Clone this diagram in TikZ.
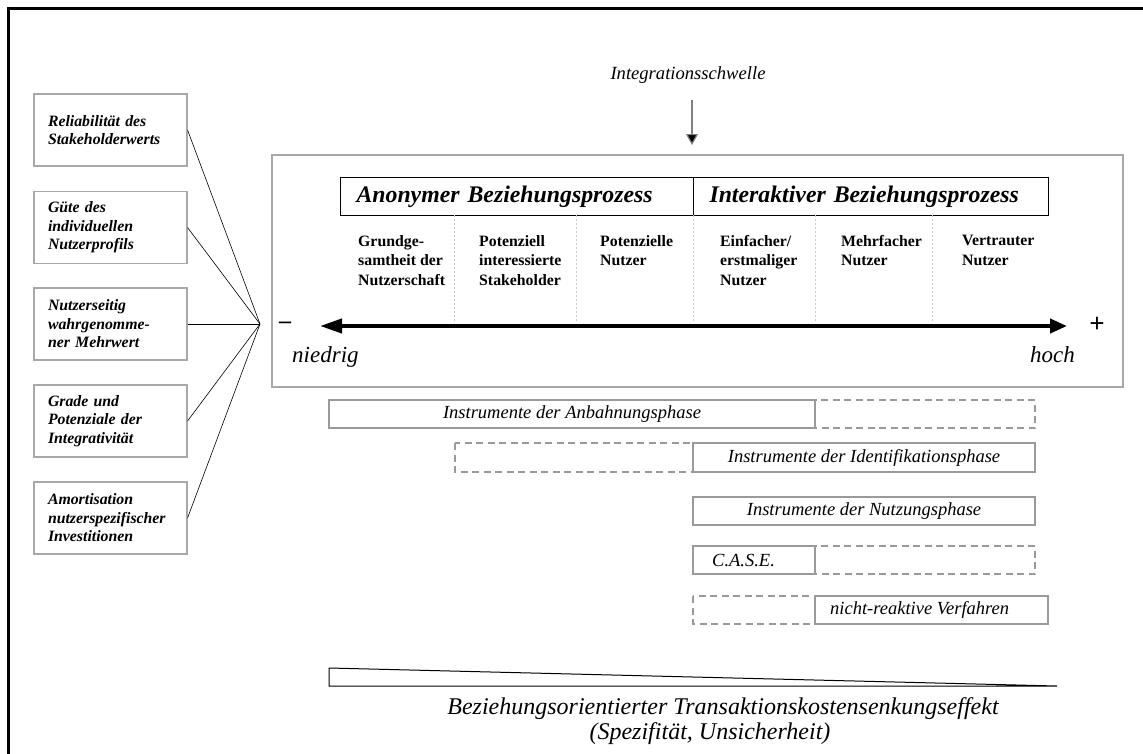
\documentclass[tikz,border=0pt]{standalone}
\usepackage{fontspec}
\setmainfont{Liberation Serif}
\usetikzlibrary{arrows.meta}

\definecolor{framegray}{HTML}{A8A8A8}
\definecolor{boxgray}{HTML}{9A9A9A}
\definecolor{sepgray}{HTML}{C8C8C8}

\tikzset{
  factorbox/.style={draw=framegray, line width=1.1pt, minimum width=153pt, minimum height=72pt,
    text width=125pt, inner xsep=14pt, align=left,
    font=\fontsize{15.8}{18.5}\selectfont\bfseries\itshape},
  phasebox/.style={draw=black, line width=1pt, minimum height=38pt, inner xsep=16pt, align=left,
    font=\fontsize{23.8}{26}\selectfont\bfseries\itshape},
  stagetext/.style={anchor=north west, inner sep=0pt, align=left,
    font=\fontsize{15.8}{19.5}\selectfont\bfseries},
  separator/.style={draw=sepgray, line width=0.7pt, dash pattern=on 2pt off 2pt},
  instrbox/.style={draw=boxgray, line width=1.6pt, fill=white},
  instrdash/.style={draw=boxgray, line width=1.6pt, dash pattern=on 7pt off 4.5pt},
  instrtext/.style={inner sep=0pt, font=\fontsize{18.5}{22}\selectfont\itshape},
  effecttext/.style={anchor=base, inner sep=0pt, font=\fontsize{24}{25}\selectfont\itshape},
  link/.style={draw=black, line width=0.6pt},
}

\begin{document}
\begin{tikzpicture}[x=1pt, y=-1pt]
\useasboundingbox (0,0) rectangle (1143,753);

% outer frame, open to the right and bottom
\draw[line width=2.5pt, line cap=rect] (1143,8.5) -- (8.5,8.5) -- (8.5,753);

% threshold label and arrow
\node[anchor=base, font=\fontsize{18.6}{22}\selectfont\itshape] (threshold) at (688,79) {Integrationsschwelle};
\coordinate (thrtop) at (692,100);
\coordinate (thrtip) at (692,145);
\draw[draw=gray, line width=1.2pt, -{Triangle[length=11pt, width=12pt, fill=black]}] (thrtop) -- (thrtip);

% main panel
\draw[draw=framegray, line width=1.3pt] (272,155) rectangle (1123,387);

% relationship process headers
\node[phasebox, anchor=north west, minimum width=353pt, text width=321pt] (anon) at (340,177) {Anonymer Beziehungsprozess};
\node[phasebox, anchor=north west, minimum width=355pt, text width=323pt] (inter) at (693,177) {Interaktiver Beziehungsprozess};

% stage separators
\foreach \x in {454,576,693,815,932}
  \draw[separator] (\x,215) -- (\x,323);

% stages
\node[stagetext] (s1) at (358,235) {Grundge-\\samtheit der\\Nutzerschaft};
\node[stagetext] (s2) at (479,235) {Potenziell\\interessierte\\Stakeholder};
\node[stagetext] (s3) at (600,235) {Potenzielle\\Nutzer};
\node[stagetext] (s4) at (720,235) {Einfacher/\\erstmaliger\\Nutzer};
\node[stagetext] (s5) at (841,235) {Mehrfacher\\Nutzer};
\node[stagetext] (s6) at (962,235) {Vertrauter\\Nutzer};

% scale arrow
\coordinate (lowend) at (320,326);
\coordinate (highend) at (1067,326);
\draw[line width=4pt, {Triangle[length=22pt, width=14pt]}-{Triangle[length=17pt, width=14pt]}] (lowend) -- (highend);
\node[font=\fontsize{24}{24}\selectfont\bfseries] (minus) at (285,325) {–};
\node[font=\fontsize{27}{27}\selectfont\bfseries] (plus) at (1097,325) {+};
\node[anchor=base west, inner sep=0pt, font=\fontsize{23}{26}\selectfont\itshape] (low) at (292,362) {niedrig};
\node[anchor=base east, inner sep=0pt, font=\fontsize{23}{26}\selectfont\itshape] (high) at (1075,362) {hoch};

% influencing factors
\coordinate (hub) at (260,324);
\node[factorbox] (f1) at (110.5,130) {Reliabilität des\\Stakeholderwerts};
\node[factorbox] (f2) at (110.5,227.5) {Güte des\\individuellen\\Nutzerprofils};
\node[factorbox] (f3) at (110.5,324) {Nutzerseitig\\wahrgenomme-\\ner Mehrwert};
\node[factorbox] (f4) at (110.5,421) {Grade und\\Potenziale der\\Integrativität};
\node[factorbox] (f5) at (110.5,518) {Amortisation\\nutzerspezifischer\\Investitionen};
\foreach \f in {f1,f2,f3,f4,f5}
  \draw[link] (\f.east) -- (hub);

% instrument ranges: dashed extensions first, solid boxes on top
\draw[instrdash] (815,400) rectangle (1035,428);
\draw[instrbox] (329,400) rectangle (815,428);
\node[instrtext] (i1) at (572,414) {Instrumente der Anbahnungsphase};

\draw[instrdash] (455,443) rectangle (693,472);
\draw[instrbox] (693,443) rectangle (1035,472);
\node[instrtext] (i2) at (864,458) {Instrumente der Identifikationsphase};

\draw[instrbox] (693,497) rectangle (1035,525);
\node[instrtext] (i3) at (864,511) {Instrumente der Nutzungsphase};

\draw[instrdash] (815,546) rectangle (1035,574);
\draw[instrbox] (693,546) rectangle (815,574);
\node[instrtext, anchor=west] (i4) at (712,560) {C.A.S.E.};

\draw[instrdash] (693,596) rectangle (815,624);
\draw[instrbox] (815,596) rectangle (1048,624);
\node[instrtext, anchor=west] (i5) at (830,610) {nicht-reaktive Verfahren};

% cost reduction wedge
\draw[line width=1pt, line join=miter] (329,668) -- (1057,686) -- (329,686) -- cycle;
\node[effecttext] (effect) at (723,714) {Beziehungsorientierter Transaktionskostensenkungseffekt};
\node[effecttext] (effect2) at (710,739) {(Spezifität, Unsicherheit)};

\end{tikzpicture}
\end{document}
